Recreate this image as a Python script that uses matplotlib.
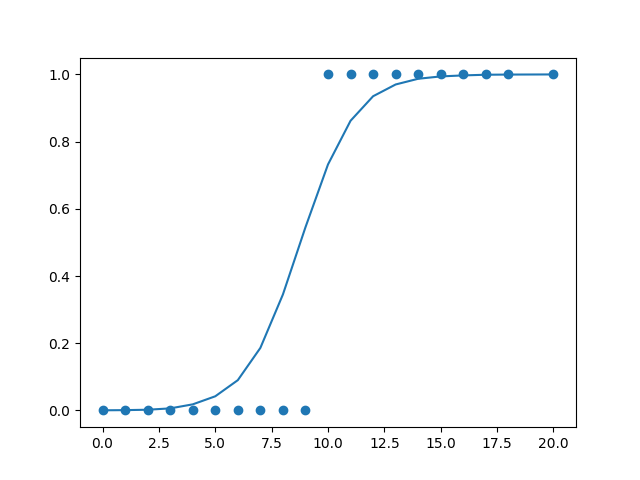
import matplotlib
matplotlib.use("Agg")
import matplotlib.pyplot as plt

x_obs = [0, 1, 2, 3, 4, 5, 6, 7, 8, 9, 10, 11, 12, 13, 14, 15, 16, 17, 18, 20]
y_obs = [0, 0, 0, 0, 0, 0, 0, 0, 0, 0, 1, 1, 1, 1, 1, 1, 1, 1, 1, 1]

# fitted probabilities
p_fit = [0.0003, 0.0008, 0.002, 0.006, 0.018, 0.042, 0.090, 0.186, 0.345, 0.545,
         0.732, 0.862, 0.935, 0.970, 0.987, 0.994, 0.997, 0.999, 0.9995, 0.9999]

fig, ax = plt.subplots(figsize=(6.4, 4.8), dpi=100)
ax.scatter(x_obs, y_obs)
ax.plot(x_obs, p_fit)
fig.savefig("out.png")
